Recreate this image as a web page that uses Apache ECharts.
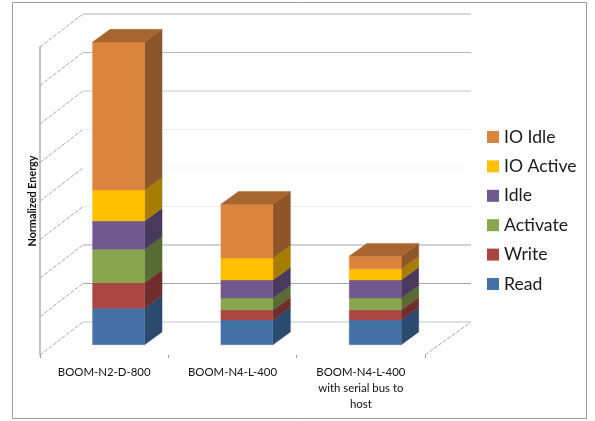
<!DOCTYPE html>
<html>
<head>
<meta charset="utf-8">
<style>html,body{margin:0;padding:0;background:#fff}#chart{width:595px;height:421px}</style>
<script src="https://cdn.jsdelivr.net/npm/echarts@6/dist/echarts.min.js"></script>
</head>
<body>
<div id="chart"></div>
<script>
// Normalized energy per configuration, stacked bottom to top.
const categories = ['BOOM-N2-D-800', 'BOOM-N4-L-400', 'BOOM-N4-L-400\nwith serial bus to\nhost'];
const readEnergy = [0.945, 0.64, 0.64];
const writeEnergy = [0.665, 0.26, 0.26];
const activateEnergy = [0.868, 0.31, 0.31];
const idleEnergy = [0.735, 0.47, 0.47];
const ioActiveEnergy = [0.805, 0.57, 0.29];
const ioIdleEnergy = [3.844, 1.40, 0.33];

const seriesNames = ['Read', 'Write', 'Activate', 'Idle', 'IO Active', 'IO Idle'];
const seriesValues = [readEnergy, writeEnergy, activateEnergy, idleEnergy, ioActiveEnergy, ioIdleEnergy];
const frontColors = ['#4472A6', '#AA4643', '#89A54E', '#71588F', '#FFC000', '#DB843D'];
const sideColors = ['#2C4A6E', '#6F2E2C', '#586B33', '#49395D', '#A67D00', '#8E5628'];
const topColor = '#A8652F';

// Back-wall gridline shades, one per tick from 0 to 8.
const wallLineColors = ['#c4c4c4', '#a8a8a8', '#a8a8a8', '#ececec', '#f8f8f8', '#eeeeee', '#c8c8c8', '#b8b8b8', '#b0b0b0'];

// Oblique projection used for the walls and the bars.
const WALL_DX = 43, WALL_DY = -33;
const BAR_SHIFT_X = 14.4, BAR_SHIFT_Y = -10.3;
const BAR_WIDTH = 52, BAR_DX = 17.5, BAR_DY = -12.7;

function quad(points, fill) {
  return { type: 'polygon', shape: { points }, style: { fill, stroke: fill, lineWidth: 0.4 } };
}

function renderWalls(params, api) {
  const cs = params.coordSys;
  const children = [];
  wallLineColors.forEach(function (color, tick) {
    const y = api.coord([0, tick])[1];
    children.push({
      type: 'line',
      shape: { x1: cs.x + WALL_DX, y1: y + WALL_DY, x2: cs.x + cs.width + WALL_DX + 3, y2: y + WALL_DY },
      style: { stroke: color, lineWidth: 1.2 }
    });
    children.push({
      type: 'line',
      shape: { x1: cs.x, y1: y, x2: cs.x + WALL_DX, y2: y + WALL_DY },
      style: { stroke: '#a8a8a8', lineWidth: 1, lineDash: [4, 1.5] }
    });
  });
  const floorY = api.coord([0, 0])[1];
  children.push({
    type: 'line',
    shape: { x1: cs.x + cs.width, y1: floorY, x2: cs.x + cs.width + WALL_DX + 3, y2: floorY + WALL_DY },
    style: { stroke: '#a8a8a8', lineWidth: 1, lineDash: [4, 1.5] }
  });
  return { type: 'group', children };
}

function makeSegmentRenderer(level) {
  return function (params, api) {
    const cat = api.value(0);
    const val = api.value(1);
    let base = 0;
    for (let i = 0; i < level; i++) base += seriesValues[i][cat];
    const p0 = api.coord([cat, base]);
    const p1 = api.coord([cat, base + val]);
    const x0 = p0[0] + BAR_SHIFT_X - BAR_WIDTH / 2;
    const x1 = x0 + BAR_WIDTH;
    const yb = p0[1] + BAR_SHIFT_Y;
    const yt = p1[1] + BAR_SHIFT_Y;
    const children = [
      quad([[x1, yb], [x1 + BAR_DX, yb + BAR_DY], [x1 + BAR_DX, yt + BAR_DY], [x1, yt]], sideColors[level]),
      quad([[x0, yb], [x1, yb], [x1, yt], [x0, yt]], frontColors[level])
    ];
    if (level === seriesValues.length - 1) {
      children.push(quad([[x0, yt], [x1, yt], [x1 + BAR_DX, yt + BAR_DY], [x0 + BAR_DX, yt + BAR_DY]], topColor));
    }
    return { type: 'group', children };
  };
}

const chart = echarts.init(document.getElementById('chart'), null, { renderer: 'canvas' });
const FONT = 'Lato, "Open Sans", sans-serif';

chart.setOption({
  animation: false,
  backgroundColor: '#ffffff',
  textStyle: { fontFamily: FONT },
  graphic: [{
    type: 'rect',
    silent: true,
    shape: { x: 12.5, y: 2.5, width: 574, height: 416 },
    style: { fill: 'none', stroke: '#9c9c9c', lineWidth: 1 }
  }],
  grid: { left: 40, top: 47, width: 385, height: 308, containLabel: false },
  legend: {
    orient: 'vertical',
    left: 482,
    top: 122,
    itemWidth: 12,
    itemHeight: 12,
    itemGap: 9.4,
    icon: 'rect',
    selectedMode: false,
    data: seriesNames.slice().reverse(),
    textStyle: { fontFamily: FONT, fontSize: 17.6, color: '#1a1a1a', lineHeight: 20 }
  },
  xAxis: {
    type: 'category',
    data: categories,
    axisLine: { show: false },
    axisTick: { show: true, length: 3, lineStyle: { color: '#999999', width: 1 } },
    axisLabel: { color: '#111111', fontSize: 11.4, fontFamily: FONT, lineHeight: 16, margin: 9, interval: 0 }
  },
  yAxis: {
    type: 'value',
    min: 0,
    max: 8,
    interval: 1,
    name: 'Normalized Energy',
    nameLocation: 'middle',
    nameRotate: 90,
    nameGap: 2,
    nameTextStyle: { fontFamily: FONT, fontSize: 10.8, fontWeight: 'bold', color: '#111111' },
    axisLine: { show: true, lineStyle: { color: '#b0b0b0', width: 1.5 } },
    axisTick: { show: false },
    axisLabel: { show: false },
    splitLine: { show: false }
  },
  series: [
    { type: 'custom', name: 'walls', data: [[0, 0]], encode: { x: 0, y: 1 }, renderItem: renderWalls, silent: true, clip: false, z: 1 }
  ].concat(seriesNames.map(function (name, level) {
    return {
      type: 'custom',
      name,
      itemStyle: { color: frontColors[level] },
      encode: { x: 0, y: 1 },
      data: seriesValues[level].map(function (v, i) { return [i, v]; }),
      renderItem: makeSegmentRenderer(level),
      clip: false,
      z: 2 + level
    };
  }))
});
</script>
</body>
</html>
